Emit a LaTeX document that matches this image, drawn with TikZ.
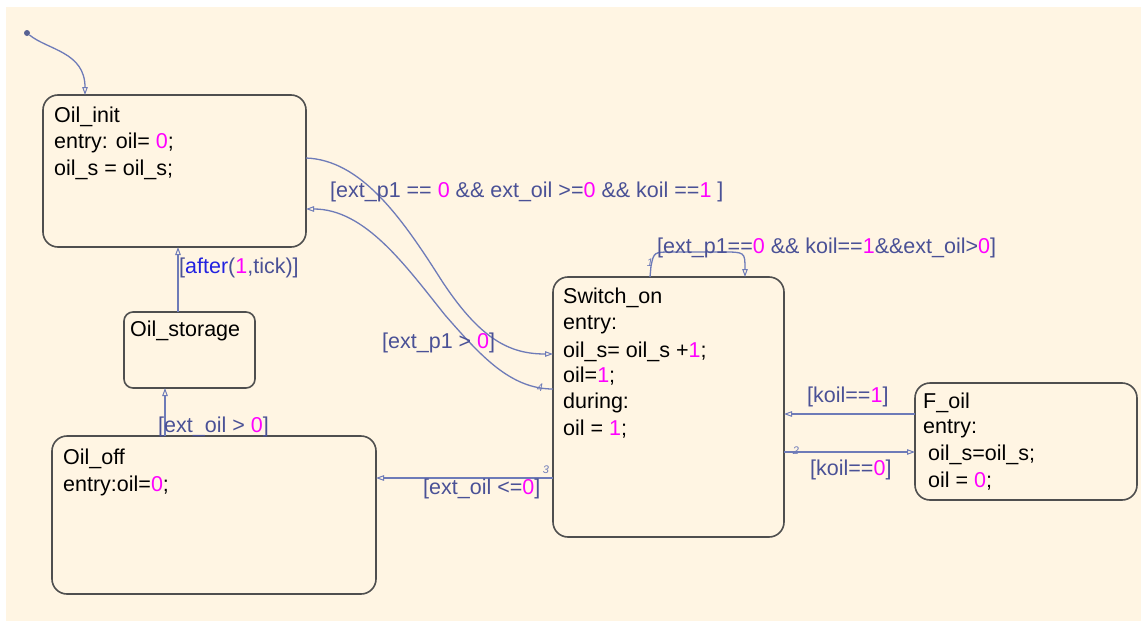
\documentclass[tikz,border=0pt]{standalone}
\usepackage{fontspec}
\setmainfont{Liberation Sans}
\usetikzlibrary{arrows.meta}
\definecolor{bg}{HTML}{FFF5E3}
\definecolor{stdraw}{HTML}{4F4F4F}
\definecolor{conn}{HTML}{6E7BB8}
\definecolor{lbl}{HTML}{4A5196}
\definecolor{mag}{HTML}{FF00FF}
\definecolor{kwblue}{HTML}{2222E0}
\newcommand\mg[1]{\textcolor{mag}{#1}}
\newcommand\kw[1]{\textcolor{kwblue}{#1}}
\tikzset{
  stbox/.style={draw=stdraw, line width=1.6pt, rounded corners=15pt, inner sep=0pt, outer sep=0pt, anchor=north west},
  sttxt/.style={anchor=base west, inner sep=0pt, text=black, font=\fontsize{21.5}{26.5}\selectfont},
  lbltxt/.style={anchor=base west, inner sep=0pt, text=lbl, font=\fontsize{21.5}{26.5}\selectfont},
  ordtxt/.style={inner sep=0pt, text=conn, font=\fontsize{11}{13}\selectfont\itshape},
  tr/.style={draw=conn, line width=1.3pt, -{Triangle[open, length=8pt, width=5.5pt, line width=1pt]}},
}
\begin{document}
\begin{tikzpicture}[x=1pt, y=-1pt]
\useasboundingbox (0,0) rectangle (1141,621);
\fill[white] (0,0) rectangle (1141,621);
\fill[bg] (6,7) rectangle (1141,621);

% states
\node[stbox, minimum width=263pt, minimum height=152pt] (oilinit) at (43,95) {};
\node[stbox, rounded corners=9pt, minimum width=131pt, minimum height=76pt] (oilstor) at (124,312) {};
\node[stbox, minimum width=324pt, minimum height=158pt] (oiloff) at (52,436) {};
\node[stbox, minimum width=231pt, minimum height=260pt] (swon) at (553,277) {};
\node[stbox, minimum width=222pt, minimum height=117pt] (foil) at (915,383) {};

% state texts
\node[sttxt] (oi1) at (54,122) {Oil\_init};
\node[sttxt] (oi2) at (54,148) {entry: oil= \mg{0};};
\node[sttxt] (oi3) at (54,175) {oil\_s = oil\_s;};

\node[sttxt] (os1) at (130,336) {Oil\_storage};

\node[sttxt] (of1) at (63,464) {Oil\_off};
\node[sttxt] (of2) at (63,491) {entry:oil=\mg{0};};

\node[sttxt] (sw1) at (563,303) {Switch\_on};
\node[sttxt] (sw2) at (563,329) {entry:};
\node[sttxt] (sw3) at (563,357) {oil\_s= oil\_s +\mg{1};};
\node[sttxt] (sw4) at (563,382) {oil=\mg{1};};
\node[sttxt] (sw5) at (563,408) {during:};
\node[sttxt] (sw6) at (563,435) {oil = \mg{1};};

\node[sttxt] (fo1) at (923,408) {F\_oil};
\node[sttxt] (fo2) at (923,433) {entry:};
\node[sttxt] (fo3) at (928,460) {oil\_s=oil\_s;};
\node[sttxt] (fo4) at (928,487) {oil = \mg{0};};

% default transition
\node[circle, fill=conn!80!black, inner sep=0pt, minimum size=6pt] (dot) at (27,33) {};
\draw[tr] (dot) .. controls (48,50) and (85,52) .. ([xshift=42pt]oilinit.north west);

% Oil_init -> Switch_on
\draw[tr] ([yshift=-63pt]oilinit.north east) .. controls (360,160) and (400,215) .. (440,278)
  .. controls (480,340) and (510,354) .. ([yshift=-77pt]swon.north west);
% Switch_on -> Oil_init
\draw[tr] ([yshift=-112pt]swon.north west) .. controls (510,389) and (480,355) .. (445,315)
  .. controls (405,265) and (365,209) .. ([yshift=-114pt]oilinit.north east);
% self loop
\draw[tr] ([xshift=97pt]swon.north west) -- (651,266) .. controls (654,252) .. (672,252)
  -- (722,252) .. controls (745,252) .. ([xshift=192pt]swon.north west);
% Switch_on -> Oil_off
\draw[tr] ([yshift=-201pt]swon.north west) -- ([yshift=-42pt]oiloff.north east);
% Oil_off -> Oil_storage
\draw[tr] ([xshift=113pt]oiloff.north west) -- ([xshift=41pt]oilstor.south west);
% Oil_storage -> Oil_init
\draw[tr] ([xshift=54pt]oilstor.north west) -- ([xshift=135pt]oilinit.south west);
% F_oil -> Switch_on
\draw[tr] ([yshift=-31pt]foil.north west) -- ([yshift=-137pt]swon.north east);
% Switch_on -> F_oil
\draw[tr] ([yshift=-175pt]swon.north east) -- ([yshift=-69pt]foil.north west);

% labels
\node[lbltxt] (l1) at (330,197) {[ext\_p1 == \mg{0} \&\& ext\_oil >=\mg{0} \&\& koil ==\mg{1} ]};
\node[lbltxt] (l2) at (657,253) {[ext\_p1==\mg{0} \&\& koil==\mg{1}\&\&ext\_oil>\mg{0}]};
\node[lbltxt] (l3) at (382,348) {[ext\_p1 > \mg{0}]};
\node[lbltxt] (l4) at (807,402) {[koil==\mg{1}]};
\node[lbltxt] (l5) at (810,475) {[koil==\mg{0}]};
\node[lbltxt] (l6) at (423,494) {[ext\_oil <=\mg{0}]};
\node[lbltxt] (l7) at (158,432) {[ext\_oil > \mg{0}]};
\node[lbltxt] (l8) at (179,273) {[\kw{after}(\mg{1},tick)]};

% execution order numbers
\node[ordtxt] (n1) at (650,263) {1};
\node[ordtxt] (n2) at (796,451) {2};
\node[ordtxt] (n3) at (546,470) {3};
\node[ordtxt] (n4) at (540,388) {4};
\end{tikzpicture}
\end{document}
